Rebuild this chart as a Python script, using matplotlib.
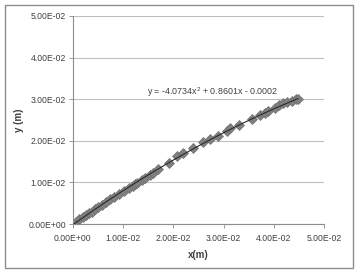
import numpy as np
import matplotlib.pyplot as plt
from matplotlib.patches import Rectangle
from matplotlib.ticker import FuncFormatter

# measured points (m)
x_data = [0.0, 0.0007, 0.0013, 0.0020, 0.0026, 0.0033, 0.0038, 0.0045, 0.0051, 0.0058,
          0.0066, 0.0074, 0.0083, 0.0091, 0.0102, 0.0111, 0.0119, 0.0124, 0.0128, 0.0137,
          0.0143, 0.0153, 0.0160, 0.0169, 0.0192, 0.0208, 0.0220, 0.0240, 0.0258, 0.0272,
          0.0289, 0.0306, 0.0313, 0.0331, 0.0356, 0.0372, 0.0382, 0.0389, 0.0402, 0.0410,
          0.0417, 0.0426, 0.0435, 0.0444, 0.0448]
y_data = [0.0, 0.0006, 0.0011, 0.0016, 0.0021, 0.0026, 0.0030, 0.0036, 0.0041, 0.0046,
          0.0052, 0.0059, 0.0066, 0.0072, 0.0079, 0.0086, 0.0092, 0.0096, 0.0099, 0.0106,
          0.0110, 0.0117, 0.0122, 0.0132, 0.0147, 0.0163, 0.0170, 0.0183, 0.0196, 0.0204,
          0.0212, 0.0224, 0.0230, 0.0238, 0.0253, 0.0262, 0.0266, 0.0272, 0.0280, 0.0286,
          0.0290, 0.0293, 0.0296, 0.0300, 0.0300]

# trendline coefficients (from the chart label)
fit_coef = [-4.0734, 0.8601, -0.0002]
fit_label = "y = -4.0734x$^2$ + 0.8601x - 0.0002"

x_ticks = [0.0, 0.01, 0.02, 0.03, 0.04, 0.05]
y_ticks = [0.0, 0.01, 0.02, 0.03, 0.04, 0.05]

plt.rcParams['font.family'] = ['Liberation Sans', 'DejaVu Sans']
plt.rcParams['mathtext.fontset'] = 'custom'
plt.rcParams['mathtext.rm'] = 'Liberation Sans'

fig = plt.figure(figsize=(3.57, 2.71), dpi=100)
fig.patch.set_facecolor('white')
fig.patches.append(Rectangle((5 / 357, 3 / 271), 348 / 357, 263 / 271,
                             transform=fig.transFigure, fill=False,
                             edgecolor='#8c8c8c', linewidth=1.0))

ax = fig.add_axes([0.2037, 0.1734, 0.7047, 0.7676])

def sci(v, pos):
    return "%.2E" % v

ax.grid(axis='y', color='#bfbfbf', linewidth=0.8)
ax.set_axisbelow(True)

xs = np.linspace(0, max(x_data), 100)
ax.plot(xs, np.polyval(fit_coef, xs), color='#2a2a2a', linewidth=0.8, zorder=3)
ax.plot(x_data, y_data, linestyle='none', marker='D', markersize=5.5,
        markerfacecolor='#808080', markeredgecolor='#707070', markeredgewidth=0.5, zorder=2)

ax.set_xlim(0, 0.05)
ax.set_ylim(0, 0.05)
ax.set_xticks(x_ticks)
ax.set_yticks(y_ticks)
ax.xaxis.set_major_formatter(FuncFormatter(sci))
ax.yaxis.set_major_formatter(FuncFormatter(sci))
ax.tick_params(labelsize=6.2, colors='#404040', length=3, width=0.6, pad=2)
ax.tick_params(axis='both', color='#8c8c8c')
ax.tick_params(axis='x', pad=4)

for side in ['top', 'right']:
    ax.spines[side].set_visible(False)
for side in ['left', 'bottom']:
    ax.spines[side].set_color('#8c8c8c')
    ax.spines[side].set_linewidth(0.8)

ax.set_xlabel("x(m)", fontsize=7, fontweight='bold', color='#404040', labelpad=5)
ax.set_ylabel("y (m)", fontsize=7, fontweight='bold', color='#404040', labelpad=3)

ax.text(0.0279, 0.0317, fit_label, fontsize=6.4, color='#404040', ha='center', va='center')

fig.savefig("out.png", dpi=100)
